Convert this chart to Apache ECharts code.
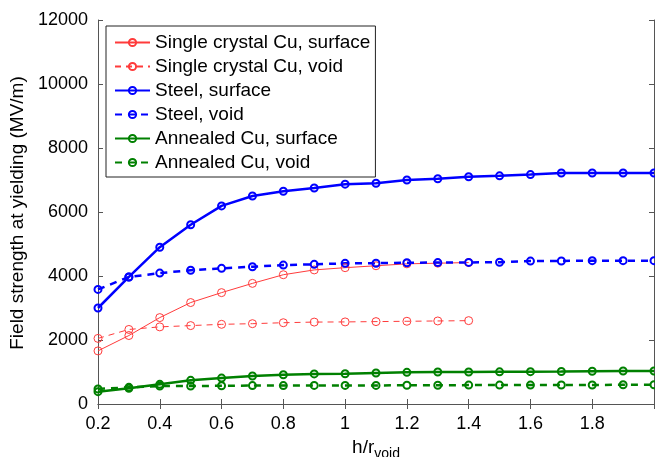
<!DOCTYPE html>
<html><head><meta charset="utf-8">
<script src="https://cdn.jsdelivr.net/npm/echarts@6/dist/echarts.min.js"></script>
<style>html,body{margin:0;padding:0;background:#fff}#c{width:655px;height:457px}</style>
</head><body><div id="c"></div>
<script>
const xs = [0.2,0.3,0.4,0.5,0.6,0.7,0.8,0.9,1.0,1.1,1.2,1.3,1.4,1.5,1.6,1.7,1.8,1.9,2.0];
const scSurface = [1660,2140,2700,3170,3480,3770,4040,4190,4260,4320,4380,4400,4420];
const scVoid    = [2050,2330,2410,2450,2490,2510,2540,2560,2565,2575,2585,2595,2605];
const steelSurface = [3000,3970,4900,5600,6190,6500,6650,6750,6870,6900,7000,7040,7100,7130,7170,7220,7220,7220,7220];
const steelVoid    = [3580,3970,4090,4180,4240,4290,4340,4365,4395,4400,4415,4420,4425,4430,4465,4470,4480,4480,4480];
const annSurface = [385,490,615,740,810,875,915,940,945,970,990,1000,1000,1005,1010,1015,1025,1030,1030];
const annVoid    = [470,520,560,560,570,575,575,580,580,580,585,585,590,590,590,595,595,600,600];
const names = ['Single crystal Cu, surface','Single crystal Cu, void','Steel, surface','Steel, void','Annealed Cu, surface','Annealed Cu, void'];
const yTicks = {min:0,max:12000,interval:2000};
const xTicks = {min:0.2,max:2.0,interval:0.2};

const RED='#ff3b3b', BLUE='#0000ff', GREEN='#008000';
function mk(name, vals, color, width, dashed, size){
  return {
    name, type:'line', data: vals.map((v,i)=>[xs[i],v]),
    symbol:'circle', symbolSize:size, showSymbol:true,
    itemStyle:{color:'rgba(255,255,255,0)', borderColor:color, borderWidth:width>1.5?2:1},
    lineStyle:{color:color, width:width, type: dashed ? (width>1.5?[7,6]:[6,5]) : 'solid'},
    emphasis:{disabled:true}, animation:false, z: 2
  };
}
const axisCol = '#555';
const FF = 'Liberation Sans';
const chart = echarts.init(document.getElementById('c'));
chart.setOption({
  backgroundColor:'#fff',
  animation:false,
  grid:{left:98, right:1, top:20, bottom:53, containLabel:false, outerBoundsMode:'none'},
  legend:{
    orient:'vertical', left:106, top:26,
    padding:[7,5,5,8], itemGap:5, itemWidth:35, itemHeight:9,
    backgroundColor:'#fff', borderColor:'#222', borderWidth:1,
    textStyle:{fontFamily:FF, fontSize:19, color:'#000'},
    data:names
  },
  xAxis:[{
    type:'value', min:xTicks.min, max:xTicks.max, interval:xTicks.interval,
    axisLine:{show:true, lineStyle:{color:axisCol}},
    axisTick:{show:true, inside:true, length:5, lineStyle:{color:axisCol}},
    splitLine:{show:false},
    axisLabel:{fontFamily:FF, fontSize:18, color:'#000', margin:11,
      formatter:v=> (Math.abs(v-2)<1e-9 ? '' : String(+v.toFixed(1)))},
    name:'{a|h/r}{b|void}', nameLocation:'middle', nameGap:25,
    nameTextStyle:{rich:{a:{fontFamily:FF, fontSize:19, color:'#000'},
                         b:{fontFamily:FF, fontSize:14, color:'#000', verticalAlign:'bottom', padding:[14,0,0,0]}}}
  },{
    type:'value', position:'top', min:xTicks.min, max:xTicks.max, interval:xTicks.interval,
    axisLine:{show:true, lineStyle:{color:axisCol}},
    axisTick:{show:true, inside:true, length:5, lineStyle:{color:axisCol}},
    axisLabel:{show:false}, splitLine:{show:false}
  }],
  yAxis:[{
    type:'value', min:yTicks.min, max:yTicks.max, interval:yTicks.interval,
    axisLine:{show:true, lineStyle:{color:axisCol}},
    axisTick:{show:true, inside:true, length:5, lineStyle:{color:axisCol}},
    splitLine:{show:false},
    axisLabel:{fontFamily:FF, fontSize:18, color:'#000', margin:10, formatter:v=>String(v)},
    name:'Field strength at yielding (MV/m)', nameLocation:'middle', nameGap:67, nameRotate:90,
    nameTextStyle:{fontFamily:FF, fontSize:19, color:'#000', padding:[0,2,0,0]}
  },{
    type:'value', position:'right', min:yTicks.min, max:yTicks.max, interval:yTicks.interval,
    axisLine:{show:true, lineStyle:{color:axisCol}},
    axisTick:{show:true, inside:true, length:5, lineStyle:{color:axisCol}},
    axisLabel:{show:false}, splitLine:{show:false}
  }],
  series:[
    mk(names[0], scSurface, RED, 1, false, 8),
    mk(names[1], scVoid, RED, 1, true, 8),
    mk(names[2], steelSurface, BLUE, 2.5, false, 7),
    mk(names[3], steelVoid, BLUE, 2.5, true, 7),
    mk(names[4], annSurface, GREEN, 2.5, false, 7),
    mk(names[5], annVoid, GREEN, 2.5, true, 7)
  ]
});
</script></body></html>
